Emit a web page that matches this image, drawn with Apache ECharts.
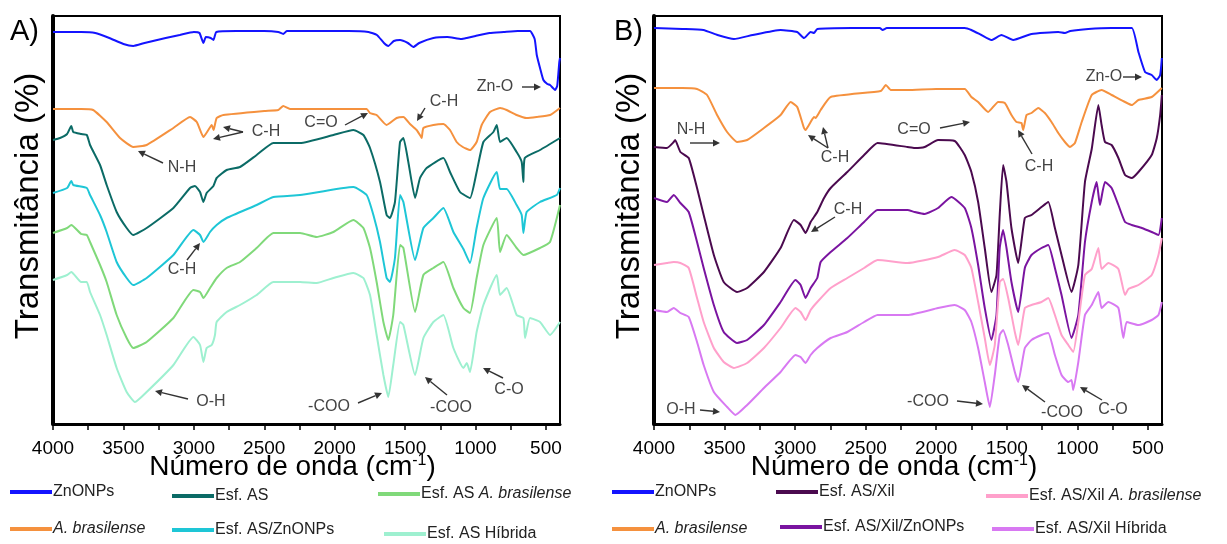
<!DOCTYPE html>
<html>
<head>
<meta charset="utf-8">
<script src="https://cdn.jsdelivr.net/npm/echarts@6/dist/echarts.min.js"></script>
<style>
  html, body { margin: 0; padding: 0; background: #fff; }
  #chart { width: 1227px; height: 544px; }
</style>
</head>
<body>
<div id="chart"></div>
<script>
// espectros FTIR: [numero de onda, transmitancia (u.a.)]
var ticksWn = [4000, 3500, 3000, 2500, 2000, 1500, 1000, 500]
var minorWn = [4000, 3750, 3500, 3250, 3000, 2750, 2500, 2250, 2000, 1750, 1500, 1250, 1000, 750, 500]

// panel A
var znA = [[4000,392],[3900,392],[3800,392],[3700,391],[3600,386],[3500,380],[3430,378],[3350,381],[3200,386],[3100,389],[3000,392],[2960,391],[2932,381],[2915,387],[2880,386],[2861,384],[2840,392],[2700,393],[2500,393],[2400,392],[2365,390],[2340,393],[2100,393],[1900,393],[1760,392],[1700,389],[1650,381],[1619,378],[1580,383],[1536,384],[1480,381],[1441,377],[1400,381],[1299,386],[1200,387],[1100,385],[1062,386],[1000,388],[900,391],[800,392],[700,393],[613,393],[580,385],[565,369],[540,355],[518,344],[490,340],[471,339],[450,336],[435,334],[420,338],[412,350],[405,362],[400,366]]
var abA = [[4000,315],[3800,315],[3715,314],[3619,302],[3524,286],[3430,277],[3335,279],[3145,296],[3027,307],[2979,302],[2932,287],[2897,294],[2873,299],[2860,294],[2838,306],[2790,309],[2500,313],[2400,314],[2365,318],[2317,315],[2000,315],[1773,315],[1750,311],[1702,309],[1631,299],[1560,306],[1512,307],[1465,300],[1418,294],[1390,288],[1382,286],[1370,296],[1299,299],[1228,300],[1181,294],[1134,282],[1090,277],[1039,274],[992,282],[956,299],[897,312],[826,316],[779,314],[708,309],[637,306],[566,307],[470,309],[400,316]]
var asA = [[4000,284],[3950,286],[3900,290],[3870,298],[3856,292],[3800,290],[3760,289],[3737,279],[3666,259],[3619,239],[3548,212],[3477,196],[3430,189],[3335,196],[3145,216],[3027,236],[2992,238],[2956,232],[2932,222],[2909,231],[2861,238],[2838,246],[2767,254],[2672,257],[2554,269],[2435,281],[2246,281],[2009,289],[1867,294],[1796,289],[1749,276],[1678,242],[1631,209],[1607,206],[1572,222],[1536,282],[1512,286],[1477,262],[1429,226],[1394,246],[1347,256],[1228,266],[1181,252],[1110,232],[1039,226],[992,252],[944,282],[873,292],[849,299],[826,282],[779,286],[708,272],[672,262],[660,242],[650,266],[542,274],[400,286]]
var asZnA = [[4000,231],[3900,236],[3870,243],[3856,239],[3760,236],[3737,229],[3666,209],[3619,192],[3548,162],[3477,146],[3430,139],[3335,146],[3145,169],[3003,194],[2956,189],[2932,182],[2885,192],[2838,199],[2767,206],[2554,219],[2435,227],[2246,229],[1867,237],[1773,229],[1725,209],[1678,182],[1631,146],[1607,142],[1572,166],[1536,229],[1512,222],[1429,164],[1370,196],[1299,206],[1228,216],[1157,192],[1086,175],[1039,161],[992,196],[944,226],[849,252],[826,235],[779,235],[708,219],[672,209],[660,191],[637,212],[542,222],[423,229],[400,236]]
var asAbA = [[4000,191],[3900,196],[3870,199],[3800,190],[3760,189],[3737,182],[3666,159],[3619,142],[3548,109],[3477,86],[3430,76],[3335,82],[3145,106],[3003,134],[2956,132],[2932,126],[2885,136],[2838,146],[2767,156],[2672,162],[2554,176],[2435,191],[2246,191],[2128,187],[2009,192],[1867,204],[1796,196],[1749,176],[1702,142],[1654,102],[1619,84],[1584,109],[1536,179],[1512,176],[1429,112],[1370,149],[1299,156],[1228,162],[1157,136],[1086,116],[1039,111],[992,146],[944,179],[849,206],[826,172],[779,189],[708,176],[660,169],[542,176],[471,182],[400,219]]
var hibA = [[4000,144],[3900,149],[3870,152],[3800,142],[3760,142],[3737,132],[3666,109],[3619,89],[3548,56],[3477,32],[3418,22],[3335,32],[3145,59],[3003,87],[2956,79],[2932,62],[2909,76],[2873,79],[2850,89],[2838,102],[2767,112],[2672,119],[2554,129],[2435,142],[2246,142],[2128,141],[2009,146],[1867,151],[1796,146],[1749,129],[1702,89],[1654,49],[1619,27],[1584,59],[1536,102],[1512,99],[1429,49],[1370,86],[1299,102],[1228,109],[1157,76],[1086,56],[1062,61],[1039,52],[992,92],[944,119],[849,149],[826,129],[779,136],[708,109],[660,106],[648,86],[613,106],[542,102],[471,89],[400,102]]

// panel B
var znB = [[4000,396],[3800,395],[3650,394],[3550,389],[3434,385],[3300,389],[3103,394],[2985,392],[2937,386],[2890,392],[2866,391],[2843,395],[2600,396],[2400,396],[2380,394],[2350,396],[2000,396],[1798,396],[1751,394],[1680,389],[1609,384],[1538,389],[1455,384],[1325,390],[1135,392],[1088,391],[1050,393],[922,395],[757,396],[614,396],[567,372],[520,352],[473,349],[437,344],[413,349],[401,366]]
var abB = [[4000,336],[3800,336],[3695,335],[3624,329],[3553,309],[3482,292],[3411,282],[3340,284],[3221,296],[3103,309],[3032,322],[2985,317],[2937,296],[2926,294],[2890,302],[2866,307],[2855,306],[2819,314],[2748,327],[2393,333],[2357,339],[2322,334],[2204,334],[2000,335],[1798,335],[1751,327],[1703,322],[1632,312],[1561,322],[1514,321],[1467,309],[1431,302],[1396,301],[1384,294],[1360,309],[1325,311],[1277,316],[1230,311],[1183,302],[1135,291],[1088,282],[1052,277],[1017,281],[969,302],[898,329],[828,334],[757,329],[662,322],[614,319],[567,324],[473,327],[401,336]]
var xilB = [[4000,277],[3908,276],[3860,282],[3850,284],[3813,272],[3754,266],[3695,236],[3648,209],[3576,169],[3506,142],[3411,132],[3340,136],[3221,152],[3103,176],[3008,204],[2961,199],[2926,191],[2890,202],[2843,212],[2795,226],[2748,236],[2630,252],[2511,269],[2416,281],[2204,277],[2153,276],[2082,277],[1987,284],[1869,283],[1798,269],[1751,252],[1703,222],[1656,176],[1609,132],[1573,149],[1550,209],[1526,259],[1502,242],[1467,196],[1419,161],[1372,206],[1325,209],[1254,217],[1206,222],[1159,196],[1112,169],[1041,132],[993,159],[946,242],[898,275],[851,319],[828,299],[804,282],[757,279],[709,266],[662,249],[614,246],[567,252],[473,269],[437,286],[413,309],[401,329]]
var xilZnB = [[4000,226],[3908,222],[3860,229],[3813,221],[3754,212],[3695,182],[3648,156],[3576,119],[3506,92],[3411,81],[3340,84],[3221,99],[3103,122],[2997,144],[2961,139],[2926,126],[2890,136],[2843,146],[2819,162],[2748,172],[2630,186],[2511,202],[2416,214],[2204,214],[2153,212],[2082,210],[1987,216],[1893,227],[1798,216],[1751,196],[1703,159],[1656,116],[1609,84],[1573,109],[1550,176],[1526,194],[1502,176],[1467,142],[1419,112],[1372,156],[1325,169],[1254,176],[1206,179],[1159,156],[1112,129],[1041,86],[993,109],[946,182],[898,222],[863,242],[840,219],[804,242],[757,236],[709,219],[662,202],[614,199],[543,196],[473,192],[425,189],[401,206]]
var xilAbB = [[4000,159],[3908,161],[3860,162],[3813,161],[3754,156],[3695,126],[3648,102],[3576,76],[3506,62],[3434,56],[3340,61],[3221,76],[3103,96],[2997,116],[2961,112],[2926,104],[2890,114],[2843,122],[2748,136],[2630,146],[2511,156],[2416,164],[2204,161],[1987,167],[1869,174],[1798,169],[1751,156],[1703,122],[1656,86],[1620,59],[1585,79],[1550,142],[1526,145],[1490,126],[1443,92],[1419,79],[1372,116],[1325,119],[1254,122],[1206,126],[1159,109],[1112,89],[1064,79],[1029,72],[993,102],[946,149],[898,155],[851,176],[828,155],[780,161],[709,155],[662,129],[638,135],[567,139],[473,149],[425,169],[401,186]]
var xilHibB = [[4000,114],[3908,112],[3860,116],[3813,111],[3754,107],[3695,82],[3648,59],[3576,32],[3482,17],[3423,9],[3340,19],[3221,36],[3103,52],[2997,69],[2961,67],[2926,61],[2890,69],[2843,76],[2748,86],[2630,92],[2511,102],[2416,109],[2204,109],[1987,116],[1869,119],[1798,114],[1751,102],[1703,76],[1656,42],[1620,17],[1585,49],[1550,89],[1526,94],[1490,79],[1443,52],[1419,42],[1372,76],[1325,84],[1254,89],[1206,91],[1159,69],[1112,49],[1064,42],[1041,44],[1029,34],[993,62],[946,109],[898,119],[851,132],[828,116],[780,122],[709,116],[674,86],[650,102],[567,99],[473,104],[425,109],[401,122]]

var myChart = echarts.init(document.getElementById('chart'))
var FONT = 'Liberation Sans, Arial, sans-serif'

function mkSeries (name, data, color, idx) {
  return {
    name: name,
    type: 'line',
    xAxisIndex: idx,
    yAxisIndex: idx,
    data: data,
    symbol: 'none',
    smooth: 0.15,
    lineStyle: { color: color, width: 2 },
    itemStyle: { color: color },
    emphasis: { disabled: true },
    silent: true
  }
}

function mkX (idx) {
  return {
    type: 'value',
    gridIndex: idx,
    min: 400,
    max: 4000,
    inverse: true,
    name: 'Número de onda (cm{sup|-1})',
    nameLocation: 'middle',
    nameGap: 29,
    nameMoveOverlap: false,
    nameTextStyle: {
      fontSize: 28,
      fontFamily: FONT,
      color: '#000',
      padding: [0, 28, 0, 0],
      rich: { sup: { fontSize: 16, fontFamily: FONT, color: '#000', verticalAlign: 'top', padding: [0, 0, 12, 0] } }
    },
    axisLine: { show: true, lineStyle: { color: '#000', width: 3 } },
    axisTick: { show: true, inside: false, length: 6, customValues: minorWn, lineStyle: { color: '#000', width: 1.5 } },
    axisLabel: {
      fontSize: 19,
      fontFamily: FONT,
      color: '#000',
      margin: 15,
      customValues: ticksWn,
      formatter: function (v) { return String(v) }
    },
    splitLine: { show: false }
  }
}

function mkY (idx) {
  return {
    type: 'value',
    gridIndex: idx,
    min: 0,
    max: 408,
    axisLine: { show: true, lineStyle: { color: '#000', width: 4 } },
    axisTick: { show: false },
    axisLabel: { show: false },
    splitLine: { show: false }
  }
}

// una leyenda por serie para ubicarlas como en la figura
var legendItems = [
  ['ZnONPs', 10, 484], ['Esf. AS', 172, 488], ['Esf. AS A. brasilense', 378, 486],
  ['A. brasilense', 10, 521], ['Esf. AS/ZnONPs', 172, 522], ['Esf. AS Híbrida', 384, 526],
  ['ZnONPs ', 612, 484], ['Esf. AS/Xil', 776, 484], ['Esf. AS/Xil A. brasilense', 986, 488],
  ['A. brasilense ', 612, 521], ['Esf. AS/Xil/ZnONPs', 780, 519], ['Esf. AS/Xil Híbrida', 992, 521]
]
var legends = legendItems.map(function (it) {
  return {
    data: [it[0]],
    left: it[1],
    top: it[2],
    icon: 'rect',
    itemWidth: 42,
    itemHeight: 4,
    itemGap: 0,
    selectedMode: false,
    padding: 0,
    textStyle: {
      fontSize: 16,
      fontFamily: FONT,
      color: '#222',
      padding: [0, 0, 0, -4],
      rich: { i: { fontStyle: 'italic', fontSize: 16, fontFamily: FONT, color: '#222' } }
    },
    formatter: function (n) {
      n = n.trim()
      return n.replace('A. brasilense', '{i|A. brasilense}')
    }
  }
})

// anotaciones: texto + flechas
function arrow (x1, y1, x2, y2) {
  var a = Math.atan2(y2 - y1, x2 - x1)
  var h = 7
  var w = 3.5
  var bx = x2 - h * Math.cos(a)
  var by = y2 - h * Math.sin(a)
  return [
    { type: 'line', shape: { x1: x1, y1: y1, x2: bx, y2: by }, style: { stroke: '#333', lineWidth: 1.4 }, silent: true },
    { type: 'polygon', shape: { points: [[x2, y2], [bx + w * Math.sin(a), by - w * Math.cos(a)], [bx - w * Math.sin(a), by + w * Math.cos(a)]] }, style: { fill: '#333' }, silent: true }
  ]
}
function label (t, x, y) {
  return { type: 'text', x: x, y: y, style: { text: t, fontSize: 16, fontFamily: FONT, fill: '#444', align: 'center', verticalAlign: 'middle' }, silent: true }
}
function yTitle (x) {
  return { type: 'text', x: x, y: 206, rotation: Math.PI / 2, style: { text: 'Transmitância (%)', fontSize: 33, fontFamily: FONT, fill: '#000', align: 'center', verticalAlign: 'middle' }, silent: true }
}
var notes = [
  label('Zn-O', 495, 87), arrow(522, 87, 541, 87),
  label('C-H', 444, 102), arrow(425, 108, 417, 121),
  label('C=O', 321, 123), arrow(345, 125, 368, 113),
  label('C-H', 266, 132), arrow(243, 132, 223, 127), arrow(243, 132, 213, 139),
  label('N-H', 182, 168), arrow(163, 163, 138, 151),
  label('C-H', 182, 270), arrow(187, 260, 200, 243),
  label('O-H', 211, 402), arrow(188, 399, 155, 391),
  label('-COO', 329, 407), arrow(358, 403, 382, 393),
  label('-COO', 451, 408), arrow(447, 395, 425, 377),
  label('C-O', 509, 390), arrow(503, 378, 483, 368),
  label('Zn-O', 1104, 77), arrow(1123, 77, 1142, 77),
  label('C=O', 914, 130), arrow(940, 128, 970, 122),
  label('C-H', 1039, 167), arrow(1032, 154, 1018, 130),
  label('N-H', 691, 130), arrow(690, 143, 720, 143),
  label('C-H', 835, 158), arrow(828, 148, 808, 135), arrow(828, 148, 823, 127),
  label('C-H', 848, 210), arrow(835, 217, 811, 232),
  label('O-H', 681, 410), arrow(700, 410, 720, 412),
  label('-COO', 928, 402), arrow(957, 401, 983, 404),
  label('-COO', 1062, 413), arrow(1045, 402, 1022, 385),
  label('C-O', 1113, 410), arrow(1102, 400, 1080, 387),
  yTitle(29), yTitle(630),
  { type: 'text', left: 10, top: 17, style: { text: 'A)', fontSize: 29, fontFamily: FONT, fill: '#000' } },
  { type: 'text', left: 614, top: 17, style: { text: 'B)', fontSize: 29, fontFamily: FONT, fill: '#000' } }
]
var graphics = []
notes.forEach(function (n) { graphics = graphics.concat(n) })

var option = {
  animation: false,
  backgroundColor: '#fff',
  grid: [
    { left: 53, width: 507, top: 16, height: 408, show: true, borderColor: '#000', borderWidth: 2, backgroundColor: 'transparent' },
    { left: 654, width: 508, top: 16, height: 408, show: true, borderColor: '#000', borderWidth: 2, backgroundColor: 'transparent' }
  ],
  xAxis: [mkX(0), mkX(1)],
  yAxis: [mkY(0), mkY(1)],
  legend: legends,
  graphic: graphics,
  series: [
    mkSeries('ZnONPs', znA, '#1414ff', 0),
    mkSeries('A. brasilense', abA, '#f5913e', 0),
    mkSeries('Esf. AS', asA, '#0b6b66', 0),
    mkSeries('Esf. AS/ZnONPs', asZnA, '#1ec6d6', 0),
    mkSeries('Esf. AS A. brasilense', asAbA, '#80d97a', 0),
    mkSeries('Esf. AS Híbrida', hibA, '#9ef0d0', 0),
    mkSeries('ZnONPs ', znB, '#1414ff', 1),
    mkSeries('A. brasilense ', abB, '#f5913e', 1),
    mkSeries('Esf. AS/Xil', xilB, '#4b0a4f', 1),
    mkSeries('Esf. AS/Xil/ZnONPs', xilZnB, '#7a14a0', 1),
    mkSeries('Esf. AS/Xil A. brasilense', xilAbB, '#ffa0cb', 1),
    mkSeries('Esf. AS/Xil Híbrida', xilHibB, '#d879f2', 1)
  ]
}
myChart.setOption(option)
window.onresize = function () { myChart.resize() }
</script>
</body>
</html>
